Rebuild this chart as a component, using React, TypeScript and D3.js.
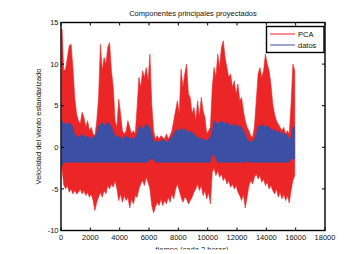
import React from "react";
import * as d3 from "d3";

const W = 347, H = 254;
const title = "Componentes principales proyectados";
const yLabel = "Velocidad del viento estandarizado";
const xLabel = "tiempo (cada 2 horas)";
const xTicks = [0, 2000, 4000, 6000, 8000, 10000, 12000, 14000, 16000, 18000];
const yTicks = [-10, -5, 0, 5, 10, 15];
const binWidth = 125; // samples per envelope bin

// Upper / lower envelopes of the PCA series (per 125-sample bin)
const pcaHi = [14.2, 9.2, 9.4, 10.8, 12.2, 12.4, 9.6, 6.0, 4.0, 3.2, 2.8, 4.2, 3.6, 2.4, 3.2, 2.0,
  2.4, 1.6, 1.4, 3.2, 6.0, 12.4, 9.2, 10.8, 10.0, 12.0, 12.6, 9.2, 7.2, 3.2, 2.4, 5.8,
  4.0, 2.0, 1.6, 2.0, 3.2, 2.4, 1.6, 2.0, 1.6, 4.8, 8.4, 7.2, 9.2, 8.4, 9.6, 8.0,
  11.2, 5.2, 2.0, 1.0, 1.4, 1.0, 1.4, 1.2, 1.0, 1.6, 1.0, 1.4, 2.0, 3.2, 4.4, 5.6,
  4.0, 9.4, 7.2, 8.8, 10.0, 6.4, 6.0, 4.0, 4.8, 3.2, 5.6, 3.6, 6.0, 4.4, 3.6, 1.6,
  2.0, 2.4, 7.2, 9.6, 8.4, 11.2, 9.6, 12.0, 12.8, 10.8, 9.6, 8.4, 8.8, 7.2, 8.0, 6.4,
  7.6, 5.6, 6.0, 4.4, 3.2, 2.4, 2.0, 1.4, 1.2, 2.4, 5.6, 8.8, 9.6, 8.4, 9.2, 11.2,
  10.0, 9.2, 7.6, 5.2, 4.0, 3.2, 2.8, 2.4, 2.0, 2.4, 1.6, 2.0, 1.6, 5.2, 10.0, 9.2];
const pcaLo = [-2.5, -4.5, -5.0, -4.6, -5.4, -5.0, -5.6, -5.2, -5.6, -5.4, -5.0, -5.6, -5.2, -5.8, -5.4, -6.0,
  -5.6, -6.4, -7.6, -6.6, -6.0, -5.4, -6.0, -5.2, -5.6, -4.6, -5.0, -4.4, -4.8, -4.0, -5.0, -6.4,
  -5.6, -6.6, -5.8, -6.4, -6.0, -7.3, -6.2, -6.8, -5.8, -6.0, -5.0, -4.4, -4.0, -4.6, -3.6, -4.2,
  -5.0, -7.0, -7.9, -7.2, -6.6, -7.0, -6.2, -7.0, -6.4, -6.8, -6.0, -6.6, -5.6, -6.2, -5.0, -4.4,
  -5.2, -6.0, -6.6, -6.0, -6.2, -6.8, -6.4, -6.0, -5.4, -5.0, -4.4, -5.2, -4.6, -5.8, -5.2, -6.2,
  -5.4, -6.8, -3.0, -2.5, -3.4, -2.8, -3.6, -3.2, -4.0, -3.6, -4.4, -4.0, -4.8, -4.4, -5.0, -4.6,
  -5.4, -5.8, -6.4, -5.6, -7.3, -6.0, -4.6, -4.0, -4.4, -3.6, -3.2, -3.8, -3.4, -4.2, -3.8, -4.6,
  -4.2, -5.0, -4.6, -5.2, -5.6, -5.0, -6.0, -5.4, -6.2, -5.6, -6.4, -5.8, -6.7, -5.2, -4.0, -3.4];
// Upper / lower envelopes of the datos series
const datosHi = [3.2, 2.8, 3.0, 2.6, 3.0, 2.8, 2.4, 1.6, 1.4, 1.2, 1.4, 1.6, 1.3, 1.2, 1.4, 1.2,
  1.0, 1.2, 1.4, 1.8, 2.6, 2.8, 3.0, 2.6, 2.8, 3.0, 2.8, 2.4, 2.0, 1.4, 1.2, 1.4,
  1.2, 1.0, 1.2, 1.4, 1.2, 1.0, 1.2, 1.0, 1.2, 1.6, 2.4, 2.6, 2.2, 2.4, 2.8, 2.6,
  2.4, 1.6, 0.8, 0.6, 0.8, 0.6, 0.8, 1.0, 0.8, 0.6, 0.8, 1.0, 1.2, 1.6, 2.0, 2.2,
  1.8, 2.4, 2.0, 2.2, 2.0, 1.8, 2.0, 1.8, 1.6, 1.4, 1.2, 1.0, 1.2, 0.8, 1.0, 0.8,
  1.0, 1.2, 2.0, 3.2, 3.0, 2.8, 3.0, 3.2, 3.0, 2.8, 3.0, 2.8, 2.6, 2.8, 2.6, 2.8,
  2.4, 2.6, 2.4, 2.0, 1.6, 1.0, 0.8, 0.6, 0.8, 1.0, 1.6, 2.6, 2.4, 2.8, 2.6, 2.4,
  2.6, 2.4, 2.2, 2.0, 2.2, 1.8, 2.0, 1.8, 1.6, 1.8, 1.6, 1.4, 1.0, 1.2, 2.4, 2.6];
const datosLo = [-2.2, -1.8, -1.8, -1.8, -1.8, -1.8, -1.8, -1.8, -1.8, -1.8, -1.8, -1.8, -1.8, -1.8, -1.8, -1.8,
  -1.8, -1.8, -1.8, -1.8, -1.8, -1.8, -1.8, -1.8, -1.8, -1.8, -1.8, -1.8, -1.8, -1.8, -1.8, -1.8,
  -1.8, -1.8, -1.8, -1.8, -1.8, -1.8, -1.8, -1.8, -1.8, -1.8, -1.8, -1.8, -1.8, -1.8, -1.8, -1.8,
  -1.4, -1.4, -1.4, -1.8, -1.8, -1.8, -1.8, -1.8, -1.8, -1.8, -1.8, -1.8, -1.8, -1.8, -1.8, -1.8,
  -1.8, -1.8, -1.8, -1.8, -1.8, -1.8, -1.8, -1.8, -1.8, -1.8, -1.8, -1.8, -1.8, -1.8, -1.8, -1.8,
  -1.8, -1.8, -0.8, -1.0, -1.4, -1.8, -1.8, -1.8, -1.8, -1.8, -1.8, -1.8, -1.8, -1.8, -1.8, -1.8,
  -1.8, -1.8, -1.8, -1.8, -1.8, -1.6, -1.8, -1.8, -1.8, -1.8, -1.8, -1.8, -1.8, -1.8, -1.8, -1.8,
  -1.8, -1.8, -1.8, -1.8, -1.8, -1.8, -1.8, -1.8, -1.8, -1.8, -1.8, -1.8, -1.8, -1.4, -1.4, -1.4];

const RED = "#ec2527";
const BLUE = "#3b4fa5";
const FONT = "'Liberation Sans', Arial, sans-serif";

export default function App() {
  const m = { l: 61, r: 325, t: 22.5, b: 230.5 };
  const x = d3.scaleLinear().domain([0, 18000]).range([m.l, m.r]);
  const y = d3.scaleLinear().domain([-10, 15]).range([m.b, m.t]);
  const bx = (i: number) => x(i * binWidth + binWidth / 2);

  const pcaArea = d3.area<number>()
    .x((_, i) => bx(i))
    .y0((_, i) => y(pcaLo[i]))
    .y1((d) => y(d))
    .curve(d3.curveLinear);
  const datosArea = d3.area<number>()
    .x((_, i) => bx(i))
    .y0((_, i) => y(datosLo[i]))
    .y1((d) => y(d))
    .curve(d3.curveLinear);

  const tk = 3;
  return (
    <svg width={W} height={H} style={{ position: "absolute", left: 0, top: 0, background: "#fff" }}
      fontFamily={FONT}>
      <defs>
        <clipPath id="cut"><rect x={0} y={0} width={W} height={249.5} /></clipPath>
      </defs>
      <rect width={W} height={H} fill="#fff" />
      <path d={pcaArea(pcaHi) || ""} fill={RED} stroke={RED} strokeWidth={0.6} />
      <path d={datosArea(datosHi) || ""} fill={BLUE} stroke={BLUE} strokeWidth={0.5} />
      {/* box */}
      <rect x={m.l} y={m.t} width={m.r - m.l} height={m.b - m.t} fill="none" stroke="#000" strokeWidth={1.4} />
      {xTicks.map((t) => (
        <g key={"x" + t}>
          <line x1={x(t)} x2={x(t)} y1={m.b} y2={m.b - tk} stroke="#000" strokeWidth={1} />
          <line x1={x(t)} x2={x(t)} y1={m.t} y2={m.t + tk} stroke="#000" strokeWidth={1} />
          <text x={x(t)} y={m.b + 9.5} fontSize={7.5} textAnchor="middle" fill="#111">{t}</text>
        </g>
      ))}
      {yTicks.map((t) => (
        <g key={"y" + t}>
          <line x1={m.l} x2={m.l + tk} y1={y(t)} y2={y(t)} stroke="#000" strokeWidth={1} />
          <line x1={m.r} x2={m.r - tk} y1={y(t)} y2={y(t)} stroke="#000" strokeWidth={1} />
          <text x={m.l - 2.5} y={y(t) + 2.7} fontSize={7.5} textAnchor="end" fill="#111">{t}</text>
        </g>
      ))}
      <text x={(m.l + m.r) / 2} y={16} fontSize={7.5} textAnchor="middle" fill="#111">{title}</text>
      <text transform={`translate(41,${(m.t + m.b) / 2}) rotate(-90)`} fontSize={7.5}
        textAnchor="middle" fill="#111">{yLabel}</text>
      <g clipPath="url(#cut)">
        <text x={192} y={251.5} fontSize={7.5} textAnchor="middle" fill="#111">{xLabel}</text>
      </g>
      {/* legend */}
      <rect x={266.5} y={26.5} width={57.5} height={26} fill="#fff" stroke="#000" strokeWidth={1.4} />
      <line x1={270} x2={295} y1={34} y2={34} stroke={RED} strokeWidth={1} />
      <line x1={270} x2={295} y1={45} y2={45} stroke={BLUE} strokeWidth={1} />
      <text x={298} y={36.7} fontSize={7.5} fill="#111">PCA</text>
      <text x={298} y={47.7} fontSize={7.5} fill="#111">datos</text>
    </svg>
  );
}
